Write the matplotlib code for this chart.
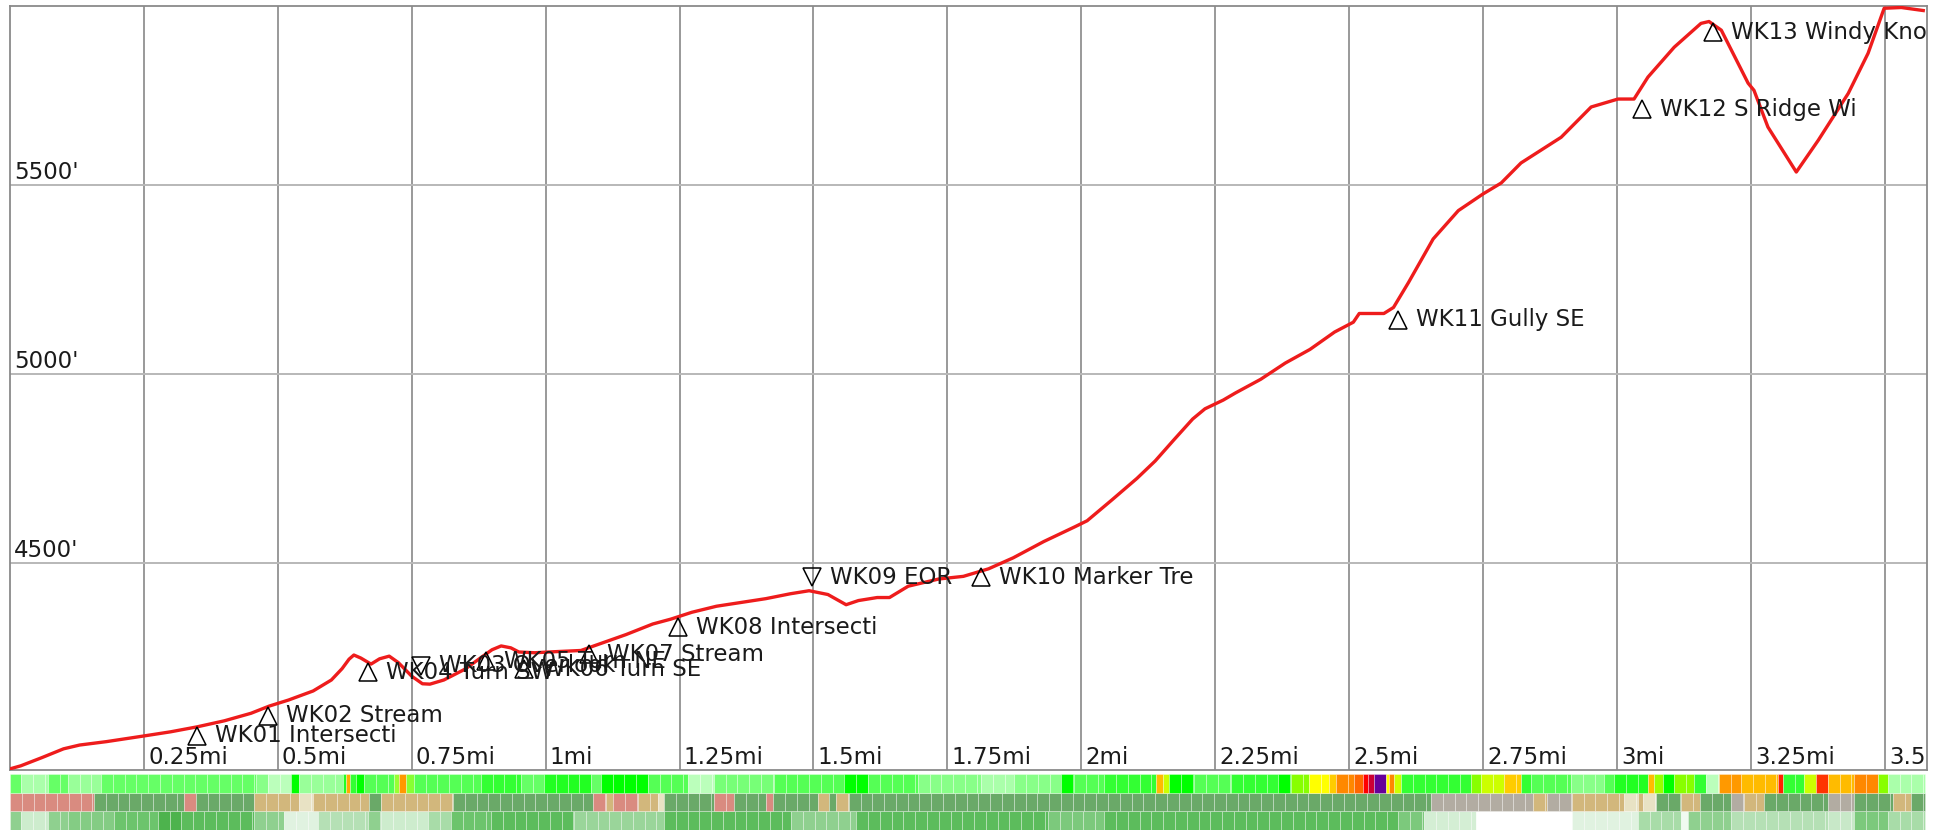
import matplotlib
matplotlib.use("Agg")
import matplotlib.pyplot as plt
import numpy as np

# Perfil de elevação (milhas, pés)
dist_mi = [0.000, 0.020, 0.060, 0.100, 0.130, 0.180, 0.250, 0.300, 0.349, 0.400,
           0.450, 0.484, 0.520, 0.566, 0.600, 0.620, 0.633, 0.642, 0.655, 0.674,
           0.690, 0.708, 0.725, 0.750, 0.770, 0.784, 0.810, 0.850, 0.880, 0.900,
           0.917, 0.935, 0.950, 0.980, 1.020, 1.066, 1.100, 1.150, 1.200, 1.234,
           1.273, 1.319, 1.365, 1.411, 1.457, 1.492, 1.527, 1.561, 1.584, 1.619,
           1.642, 1.677, 1.734, 1.780, 1.827, 1.873, 1.930, 1.988, 2.011, 2.058,
           2.104, 2.138, 2.173, 2.208, 2.231, 2.265, 2.288, 2.335, 2.381, 2.427,
           2.473, 2.508, 2.519, 2.565, 2.583, 2.611, 2.657, 2.704, 2.750, 2.784,
           2.821, 2.896, 2.952, 3.002, 3.032, 3.058, 3.107, 3.157, 3.172, 3.195,
           3.245, 3.256, 3.282, 3.335, 3.376, 3.432, 3.469, 3.499, 3.531, 3.572]
elev_ft = [3955, 3963, 3985, 4008, 4018, 4027, 4042, 4053, 4066, 4082,
           4102, 4121, 4137, 4161, 4190, 4220, 4245, 4256, 4248, 4232,
           4246, 4253, 4236, 4200, 4180, 4179, 4190, 4219, 4250, 4270,
           4280, 4275, 4264, 4262, 4265, 4268, 4285, 4310, 4338, 4351,
           4369, 4385, 4395, 4405, 4418, 4426, 4416, 4389, 4400, 4408,
           4408, 4438, 4457, 4464, 4484, 4513, 4556, 4595, 4611, 4667,
           4723, 4769, 4825, 4880, 4907, 4930, 4949, 4985, 5028, 5064,
           5110, 5136, 5159, 5159, 5175, 5241, 5356, 5431, 5475, 5504,
           5557, 5625, 5705, 5726, 5726, 5784, 5863, 5926, 5931, 5908,
           5768, 5749, 5652, 5533, 5617, 5741, 5847, 5966, 5968, 5960]

# Waypoints
wp_mi = [0.349, 0.482, 0.767, 0.668, 0.889, 0.960, 1.081, 1.247, 1.497, 1.813, 2.592, 3.047, 3.180]
wp_ft = [4042, 4095, 4227, 4211, 4240, 4219, 4258, 4330, 4462, 4462, 5143, 5699, 5903]
wp_names = ["WK01 Intersecti", "WK02 Stream", "WK03 Overlook", "WK04 Turn SW",
            "WK05 Turn NE", "WK06 Turn SE", "WK07 Stream", "WK08 Intersecti",
            "WK09 EOR", "WK10 Marker Tre", "WK11 Gully SE", "WK12 S Ridge Wi",
            "WK13 Windy Knob"]
wp_down = [False, False, True, False, False, False, False, False, True, False, False, False, False]

x_ticks = [0.25, 0.5, 0.75, 1.0, 1.25, 1.5, 1.75, 2.0, 2.25, 2.5, 2.75, 3.0, 3.25, 3.5]
y_ticks = [4500, 5000, 5500]

# Faixa 1: inclinação
slope_ends = [0.021, 0.071, 0.108, 0.170, 0.459, 0.482, 0.525, 0.540, 0.622, 0.627,
              0.635, 0.646, 0.661, 0.717, 0.726, 0.739, 0.754, 0.879, 0.954, 0.997,
              1.085, 1.103, 1.191, 1.266, 1.314, 1.426, 1.557, 1.602, 1.695, 1.813,
              1.875, 1.962, 1.987, 2.043, 2.140, 2.153, 2.164, 2.211, 2.280, 2.367,
              2.392, 2.425, 2.463, 2.476, 2.509, 2.526, 2.535, 2.547, 2.569, 2.575,
              2.584, 2.597, 2.728, 2.746, 2.789, 2.821, 2.840, 2.915, 2.976, 2.995,
              3.058, 3.069, 3.086, 3.107, 3.144, 3.167, 3.191, 3.232, 3.301, 3.310,
              3.350, 3.372, 3.394, 3.443, 3.488, 3.506, 3.575]
slope_colors = ['#66ff66', '#aaffaa', '#66ff66', '#99ff99', '#66ff66', '#88ff88', '#bbffbb', '#00ff00', '#99ff99', '#22ff22',
                '#ffaa00', '#33ff33', '#00ff00', '#55ff55', '#99ff33', '#ff9900', '#88ff33', '#55ff55', '#33ff33', '#66ff66',
                '#22ff22', '#66ff66', '#00ff00', '#55ff55', '#bbffbb', '#77ff77', '#55ff55', '#00ff00', '#55ff55', '#88ff88',
                '#aaffaa', '#88ff88', '#00ff00', '#55ff55', '#33ff33', '#ffbb00', '#ccff00', '#00ff00', '#55ff55', '#33ff33',
                '#00ff00', '#88ff00', '#ffff00', '#ffcc00', '#ff8800', '#ff6600', '#ff0000', '#cc0033', '#660099', '#ffff00',
                '#ff8800', '#ccff00', '#33ff33', '#88ff00', '#ccff00', '#ffcc00', '#33ff33', '#55ff55', '#88ff88', '#55ff55',
                '#22ff22', '#ffbb00', '#99ff00', '#00ff00', '#88ff00', '#33ff33', '#bbffbb', '#ff9900', '#ffbb00', '#ff2200',
                '#33ff33', '#ccff00', '#ff3300', '#ffbb00', '#ff8800', '#88ff00', '#aaffaa']

# Faixa 2: superfície
PK, GR, TN, CR, GY = '#d98b80', '#6aa968', '#d2b77c', '#e8e2c4', '#b2aca2'
surf_ends = [0.157, 0.325, 0.347, 0.456, 0.540, 0.566, 0.670, 0.693, 0.827, 1.089,
             1.113, 1.126, 1.173, 1.210, 1.221, 1.314, 1.352, 1.412, 1.425, 1.509,
             1.529, 1.542, 1.566, 2.653, 2.844, 2.870, 2.916, 3.013, 3.039, 3.049,
             3.073, 3.120, 3.155, 3.213, 3.238, 3.275, 3.394, 3.443, 3.516, 3.549, 3.575]
surf_colors = [PK, GR, PK, GR, TN, CR, TN, GR, TN, GR,
               PK, TN, PK, TN, CR, GR, PK, GR, PK, GR,
               TN, GR, TN, GR, GY, TN, GY, TN, CR, TN,
               CR, GR, TN, GR, GY, TN, GR, GY, GR, TN, GR]

# Faixa 3: vegetação
veg_ends = [0.021, 0.071, 0.108, 0.194, 0.276, 0.319, 0.456, 0.512, 0.575, 0.668,
            0.693, 0.780, 0.823, 0.898, 1.053, 1.221, 1.458, 1.580, 1.938, 2.043,
            2.592, 2.640, 2.737, 2.916, 3.039, 3.120, 3.133, 3.213, 3.394, 3.443,
            3.506, 3.575]
veg_colors = ['#8fd08f', '#cdeccd', '#8fd08f', '#84cc84', '#6cc46c', '#4db34d', '#5cbc5c', '#8fd08f', '#e0f2e0', '#b5e0b5',
              '#8fd08f', '#cdeccd', '#a8dca8', '#6cc46c', '#5cbc5c', '#9ad59a', '#5cbc5c', '#8fd08f', '#5cbc5c', '#7cc97c',
              '#5cbc5c', '#7cc97c', '#d4eed4', '#ffffff', '#e0f2e0', '#a8dca8', '#f0faf0', '#8fd08f', '#b5e0b5', '#c8e8c8',
              '#7cc97c', '#a8dca8']

W, H = 1942, 830
FS = 16.5
fig = plt.figure(figsize=(W / 100, H / 100), dpi=100)
ax = fig.add_axes([10 / W, 60 / H, 1917 / W, 764 / H])

ax.plot(dist_mi, elev_ft, color='#ee1c1c', linewidth=2.4, zorder=3)

for m, f, name, down in zip(wp_mi, wp_ft, wp_names, wp_down):
    ax.plot(m, f, 'v' if down else '^', markersize=13.5, markerfacecolor='none',
            markeredgecolor='black', markeredgewidth=1.1, zorder=4)
    ax.annotate(name, xy=(m, f), xytext=(13, 0), textcoords='offset points',
                va='center', ha='left', fontsize=FS, color='#1a1a1a',
                clip_on=True, zorder=5)

ax.set_xlim(0, 3.579)
ax.set_ylim(3952, 5972)
ax.set_xticks(x_ticks)
ax.set_yticks(y_ticks)
ax.tick_params(length=0, labelbottom=False, labelleft=False)
ax.grid(True, axis='x', color='#999999', linewidth=1.4)
ax.grid(True, axis='y', color='#b8b8b8', linewidth=1.4)
ax.set_axisbelow(True)
for s in ax.spines.values():
    s.set_color('#8a8a8a')
    s.set_linewidth(1.3)

# Rótulos dos eixos dentro do gráfico
for v in x_ticks:
    ax.annotate(f"{v:g}mi", xy=(v, 0), xycoords=('data', 'axes fraction'),
                xytext=(3, 1), textcoords='offset points', ha='left', va='bottom',
                fontsize=FS, color='#1a1a1a', clip_on=True)
for v in y_ticks:
    ax.annotate(f"{v}'", xy=(0, v), xycoords=('axes fraction', 'data'),
                xytext=(3, 0.5), textcoords='offset points', ha='left', va='bottom',
                fontsize=FS, color='#1a1a1a')

# Faixas coloridas
bx = fig.add_axes([10 / W, 0, 1917 / W, 56 / H])
bx.set_xlim(0, 3.579)
bx.set_ylim(0, 3)
bx.axis('off')
cell = 0.022
for row, (ends, cols) in enumerate([(veg_ends, veg_colors), (surf_ends, surf_colors), (slope_ends, slope_colors)]):
    start = 0.0
    for end, c in zip(ends, cols):
        edges = np.append(np.arange(start, end, cell), end)
        bx.bar(edges[:-1], 1, width=np.diff(edges), bottom=row, align='edge',
               color=c, edgecolor=(1, 1, 1, 0.35), linewidth=0.6)
        start = end

fig.savefig('out.png', dpi=100)
